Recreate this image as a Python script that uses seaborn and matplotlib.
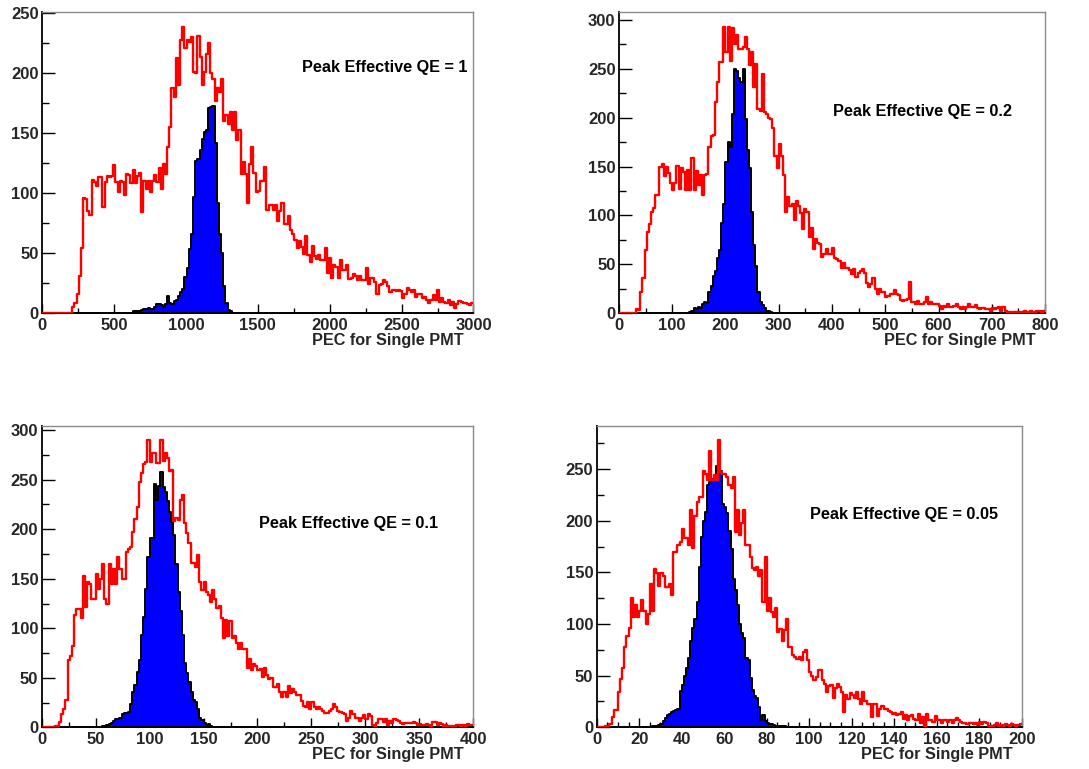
import numpy as np
import pandas as pd
import matplotlib
matplotlib.use("Agg")
import matplotlib.pyplot as plt
import seaborn as sns
from matplotlib.ticker import MultipleLocator

# ---------------------------------------------------------------------------
# Photo-electron count histograms, 200 bins each.
# Red: all PMTs; blue: single PMT selection.  Each series is stored as the
# index of its first non-empty bin followed by the bin contents.
# ---------------------------------------------------------------------------
N_BINS = 200

qe_labels = ["Peak Effective QE = 1", "Peak Effective QE = 0.2",
             "Peak Effective QE = 0.1", "Peak Effective QE = 0.05"]
x_max = [3000, 800, 400, 200]

# --- QE = 1 ---------------------------------------------------------------
red_qe1_start = 14
red_qe1 = [5, 8, 16, 31, 54, 96, 95, 85, 82, 111,
           109, 106, 113, 113, 88, 109, 114, 113, 114, 123,
           109, 101, 110, 109, 98, 116, 115, 108, 119, 108,
           114, 117, 84, 110, 103, 110, 101, 110, 115, 109,
           121, 103, 124, 116, 138, 155, 188, 180, 213, 190,
           228, 239, 221, 228, 226, 230, 201, 200, 231, 214,
           190, 201, 216, 225, 200, 195, 177, 188, 184, 195,
           160, 165, 158, 168, 153, 168, 144, 153, 116, 126,
           116, 92, 124, 138, 117, 101,
           102, 110, 110, 122, 86, 90, 90, 86, 90, 77,
           85, 92, 74, 74, 81, 69, 66, 61, 54, 60,
           55, 49, 64, 48, 42, 56, 47, 45, 48, 44,
           44, 54, 33,
           46, 29, 40, 38, 29, 44, 36, 36, 40, 28,
           29, 32, 31, 27, 31, 27, 27, 37, 24, 29,
           29, 26, 16, 23, 24, 27, 26, 22, 17, 19,
           19, 18, 19, 18, 12, 16, 21, 19, 17, 19,
           13, 16, 16, 12, 13, 11, 8, 11, 15, 11,
           19, 9, 12, 9, 8, 11, 6, 9, 4, 7,
           10, 9, 8, 8, 7, 6, 8]
blue_qe1_start = 42
blue_qe1 = [1, 1, 1, 1, 2, 3, 3, 4, 3, 3,
            5, 7, 7, 6, 5, 7, 14, 8, 7, 10,
            11, 14, 17, 20, 30, 37, 53, 66, 97, 127,
            128, 136, 145, 151, 153, 171, 172, 173, 142, 92,
            66, 50, 22, 8, 2, 1]

# --- QE = 0.2 -------------------------------------------------------------
red_qe02_start = 8
red_qe02 = [4, 3, 22, 36, 65, 83, 91, 104, 108, 121,
            121, 150, 153, 140, 150, 143, 133, 126, 133, 151,
            127, 148, 144, 126, 146, 126, 159, 126, 145, 131,
            141, 121, 141, 142, 170, 181, 182, 216, 236, 257,
            257, 293, 267, 293, 258, 292, 275, 284, 270, 270,
            272, 282, 270, 254, 267, 231, 255, 209, 207, 245,
            206, 204, 200, 199, 189, 161, 148, 173, 161, 141,
            104, 119, 110, 112, 95, 115, 110, 102, 86, 107,
            104, 78, 87, 66, 76, 72, 71, 58, 61, 66,
            61, 61, 67, 57, 55, 53, 46, 51, 46, 46,
            44, 40, 45, 37, 41, 43, 45, 41, 31, 27,
            30, 36, 25, 20, 25, 22, 22, 17, 18, 20,
            20, 24, 20, 19, 14, 13, 14, 15, 32, 12,
            12, 10, 13, 10, 9, 12, 17, 10, 12, 9,
            10, 10, 7, 4, 7, 6, 10, 6, 6, 7,
            9, 6, 4, 6, 4, 6, 9, 6, 6, 8,
            5, 4, 5, 5, 4, 4, 2, 5, 4, 5,
            6, 2, 6, 2,
            1, 1, 0, 1, 1, 1, 1, 1, 2, 1,
            1, 2, 1, 1, 2, 2, 1, 2]
blue_qe02_start = 33
blue_qe02 = [1, 2, 5, 4, 6, 5, 9, 12, 11, 22,
             28, 38, 43, 57, 65, 92, 112, 155, 175, 170,
             204, 250, 248, 240, 236, 250, 199, 167, 148, 104,
             70, 48, 22, 12, 8, 5, 2, 2, 1]

# --- QE = 0.1 -------------------------------------------------------------
red_qe01_start = 6
red_qe01 = [1, 1, 5, 13, 18, 28, 68, 72, 82, 113,
            119, 119, 110, 153, 121, 147, 145, 130, 130, 155,
            140, 150, 165, 130, 125, 165, 145, 160, 145, 172,
            160, 150, 150, 177, 180, 182, 197, 210, 222, 248,
            257, 266, 268, 290, 268, 277, 277, 267, 267, 290,
            269, 277, 272, 259, 260, 208, 211, 209, 230, 235,
            206, 196, 186, 166, 166, 162, 174, 147, 139, 147,
            137, 134, 127, 139, 130, 120, 122, 110, 90, 108,
            92, 107, 90, 92, 85, 79, 85, 79, 79, 60,
            69, 58, 64, 62, 58, 59, 51, 60, 53, 49,
            50, 41, 41, 44, 36, 31, 36, 31, 42, 35,
            39, 36, 33, 33, 27, 22, 21, 26, 19, 26,
            21, 19, 21, 19, 16, 14, 14, 16, 19, 24,
            21, 16, 15, 14, 13, 6, 9, 16, 13, 9,
            9, 6, 9, 12, 8, 13, 11, 2, 1, 4,
            8, 8, 5, 8, 2, 6, 4, 8, 7, 6,
            4, 3, 4, 4, 4, 4, 5, 4, 2, 3,
            2, 2, 3, 2, 1, 5, 5, 2, 4, 3,
            1, 2, 1, 1, 1, 1, 2, 2, 1, 2,
            1, 3, 2, 2]
blue_qe01_start = 28
blue_qe01 = [1, 1, 2, 3, 4, 6, 8, 8, 9, 13,
             14, 14, 15, 24, 36, 43, 56, 68, 93, 111,
             140, 172, 191, 191, 246, 229, 244, 258, 243, 238,
             228, 217, 207, 194, 165, 137, 117, 93, 65, 55,
             46, 36, 28, 26, 18, 9, 7, 4, 2, 3,
             1]

# --- QE = 0.05 ------------------------------------------------------------
red_qe005_start = 4
red_qe005 = [1, 1, 3, 10, 17, 17, 34, 47, 57, 78,
             88, 96, 125, 107, 118, 107, 113, 123, 113, 100,
             110, 139, 113, 153, 149, 137, 149, 146, 136, 136,
             139, 128, 170, 170, 176, 179, 192, 183, 183, 176,
             210, 174, 205, 218, 223, 223, 248, 245, 239, 267,
             239, 244, 239, 278,
             247, 245, 245, 242, 235, 232, 242, 189, 210, 186,
             198, 210, 176, 176, 165, 154, 152, 155, 146, 152,
             121, 165, 113, 125, 112,
             107, 115, 92, 95, 84, 94, 105, 78, 78, 70,
             68, 66, 68, 65, 73, 75, 65, 54, 50, 46,
             49, 55, 55, 46, 42, 34, 40, 41, 28, 38,
             42, 39, 34, 15, 31, 27, 33, 31, 28, 34,
             27, 23, 34, 25, 23, 23, 10, 23, 23, 11,
             18, 21, 18, 18, 16, 15, 13, 14, 12, 13,
             15, 8, 12, 7, 11, 12, 8, 7, 13, 4,
             10, 1, 13, 7, 7, 5, 11, 7, 7, 4,
             7, 7, 5, 7, 4, 7, 9, 7, 5, 4,
             4, 3, 4, 4, 3, 4, 2, 5, 3, 5,
             4, 1, 1, 1, 2, 4, 1,
             2, 1, 3, 2, 1, 3, 2, 1, 2, 3]
blue_qe005_start = 26
blue_qe005 = [1, 1, 1, 2, 3, 6, 9, 12, 13, 15,
              16, 17, 18, 35, 41, 50, 57, 67, 84, 96,
              105, 121, 155, 184, 200, 208, 235, 237, 240, 242,
              253, 247, 248, 216, 213, 207, 190, 173, 144, 133,
              118, 100, 91, 86, 67, 65, 48, 36, 30, 28,
              20, 7, 12, 6, 4, 3, 3, 2, 1, 1,
              1, 1, 1]

red_series = [(red_qe1_start, red_qe1), (red_qe02_start, red_qe02),
              (red_qe01_start, red_qe01), (red_qe005_start, red_qe005)]
blue_series = [(blue_qe1_start, blue_qe1), (blue_qe02_start, blue_qe02),
               (blue_qe01_start, blue_qe01), (blue_qe005_start, blue_qe005)]


def full_bins(start, values):
    counts = np.zeros(N_BINS)
    vals = np.asarray(values[:N_BINS - start], dtype=float)
    counts[start:start + len(vals)] = vals
    return counts


# Layout of the four pads (figure fractions) and axis decorations
pads = [
    dict(rect=[0.0386, 0.5934, 0.3962, 0.3906], major=500, minor=250,
         text=(0.603, 0.816), xlab=0.976),
    dict(rect=[0.5684, 0.5926, 0.3912, 0.3914], major=100, minor=50,
         text=(0.502, 0.669), xlab=0.979),
    dict(rect=[0.0383, 0.0542, 0.3963, 0.3922], major=50, minor=25,
         text=(0.504, 0.677), xlab=0.9785),
    dict(rect=[0.5479, 0.0542, 0.3903, 0.3922], major=20, minor=5,
         text=(0.502, 0.704), xlab=0.9795),
]

sns.set_theme(style="white")
plt.rcParams['font.family'] = ['Liberation Sans', 'DejaVu Sans']
plt.rcParams['font.weight'] = 'bold'

fig = plt.figure(figsize=(10.89, 7.69), dpi=100)
TICK_FS = 12
TEXT_FS = 11.7

for i, pad in enumerate(pads):
    ax = fig.add_axes(pad["rect"])
    width = x_max[i] / N_BINS
    centers = (np.arange(N_BINS) + 0.5) * width
    red = full_bins(*red_series[i])
    blue = full_bins(*blue_series[i])
    df = pd.DataFrame({"pec": centers, "all": red, "single": blue})

    sns.histplot(data=df, x="pec", weights="single", binwidth=width,
                 binrange=(0, x_max[i]), element="step", fill=True,
                 color="#0000ff", alpha=1.0, edgecolor="black",
                 linewidth=1.4, ax=ax, zorder=2)
    sns.histplot(data=df, x="pec", weights="all", binwidth=width,
                 binrange=(0, x_max[i]), element="step", fill=False,
                 color="#ff0000", linewidth=1.7, ax=ax, zorder=3)

    ax.set_xlim(0, x_max[i])
    ax.set_ylim(0, 1.05 * red.max())
    ax.xaxis.set_major_locator(MultipleLocator(pad["major"]))
    ax.xaxis.set_minor_locator(MultipleLocator(pad["minor"]))
    ax.yaxis.set_major_locator(MultipleLocator(50))
    ax.yaxis.set_minor_locator(MultipleLocator(25))

    ax.tick_params(axis="x", which="major", direction="in", length=6.5,
                   width=1, color="black", labelsize=TICK_FS, pad=3.5)
    ax.tick_params(axis="x", which="minor", direction="in", length=3.3,
                   width=1, color="black")
    ax.tick_params(axis="y", which="major", direction="in", length=9.4,
                   width=1, color="black", labelsize=TICK_FS, pad=2.5)
    ax.tick_params(axis="y", which="minor", direction="in", length=5,
                   width=1, color="black")
    ax.tick_params(bottom=True, left=True, top=False, right=False,
                   which="both")

    for side in ("left", "bottom"):
        ax.spines[side].set_color("black")
        ax.spines[side].set_linewidth(1.3)
    for side in ("top", "right"):
        ax.spines[side].set_color("#8a8a8a")
        ax.spines[side].set_linewidth(1.0)

    ax.set_ylabel("")
    ax.set_xlabel("PEC for Single PMT", fontsize=TEXT_FS, fontweight="bold")
    ax.xaxis.set_label_coords(pad["xlab"], -0.091)
    ax.xaxis.label.set_horizontalalignment("right")
    ax.xaxis.label.set_verticalalignment("center")

    ax.text(pad["text"][0], pad["text"][1], qe_labels[i],
            transform=ax.transAxes, ha="left", va="center",
            fontsize=TEXT_FS, fontweight="bold", color="black")

fig.savefig("out.png", dpi=100)
